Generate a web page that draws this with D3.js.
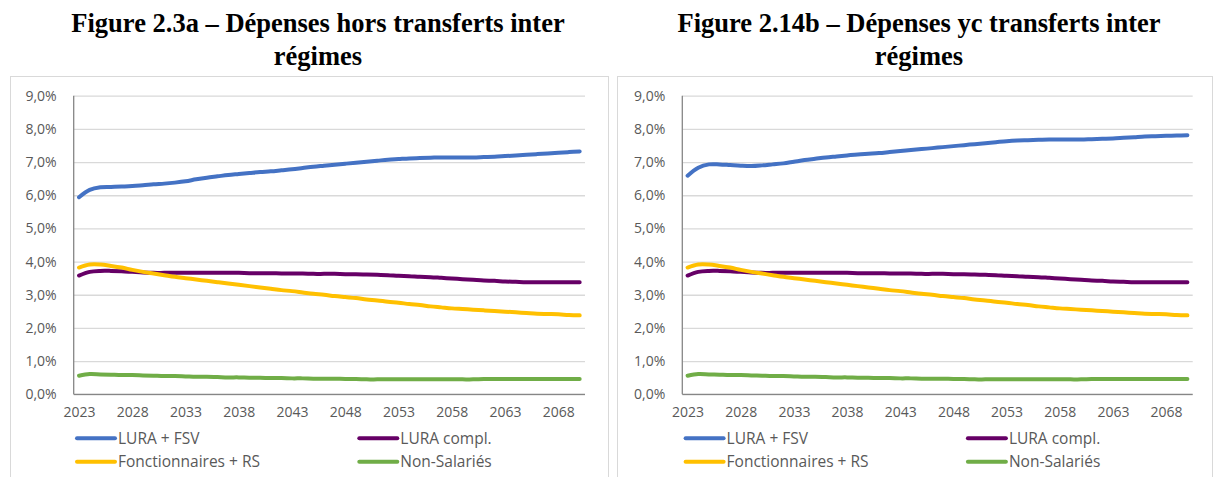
<!DOCTYPE html>
<meta charset="utf-8">
<html>
<style>
  body { margin: 0; background: #fff; }
  .title { font-family: "Liberation Serif", "Times New Roman", serif; font-weight: bold; font-size: 26.5px; fill: #000; }
  .tick text { font-family: "Open Sans", "Noto Sans", sans-serif; font-size: 14px; fill: #595959; }
  .legend text { font-family: "Open Sans", "Noto Sans", sans-serif; font-size: 15.5px; fill: #595959; }
  .line { fill: none; stroke-width: 4px; stroke-linecap: round; stroke-linejoin: round; }
</style>
<body>
<svg width="1214" height="477"></svg>
<script src="https://d3js.org/d3.v7.min.js"></script>
<script>
// years 2023..2070
var years = d3.range(2023, 2071);
var xTickYears = [2023, 2028, 2033, 2038, 2043, 2048, 2053, 2058, 2063, 2068];
var yTicks = [0, 0.01, 0.02, 0.03, 0.04, 0.05, 0.06, 0.07, 0.08, 0.09];

var seriesNames = ["LURA + FSV", "LURA compl.", "Fonctionnaires + RS", "Non-Salariés"];
var seriesColors = ["#4472C4", "#660066", "#FFC000", "#70AD47"];

// values in % of GDP
var luraFsvHors = [5.94, 6.16, 6.24, 6.25, 6.26, 6.28, 6.30, 6.33, 6.35, 6.38,
  6.42, 6.48, 6.53, 6.57, 6.61, 6.64, 6.67, 6.70, 6.72, 6.75,
  6.78, 6.82, 6.86, 6.89, 6.92, 6.95, 6.98, 7.01, 7.04, 7.07,
  7.09, 7.11, 7.12, 7.13, 7.14, 7.14, 7.14, 7.14, 7.15, 7.16,
  7.18, 7.20, 7.22, 7.24, 7.26, 7.28, 7.30, 7.32];
var luraFsvYc = [6.59, 6.83, 6.93, 6.93, 6.91, 6.89, 6.88, 6.90, 6.93, 6.96,
  7.01, 7.06, 7.10, 7.14, 7.17, 7.20, 7.23, 7.25, 7.27, 7.30,
  7.33, 7.36, 7.39, 7.42, 7.45, 7.48, 7.51, 7.54, 7.57, 7.60,
  7.63, 7.65, 7.66, 7.67, 7.68, 7.68, 7.68, 7.68, 7.69, 7.70,
  7.71, 7.73, 7.75, 7.77, 7.78, 7.79, 7.80, 7.81];
var luraCompl = [3.58, 3.69, 3.72, 3.72, 3.71, 3.69, 3.67, 3.66, 3.66, 3.66,
  3.66, 3.66, 3.66, 3.66, 3.66, 3.66, 3.65, 3.65, 3.65, 3.64,
  3.64, 3.64, 3.63, 3.63, 3.63, 3.62, 3.62, 3.61, 3.60, 3.59,
  3.57, 3.56, 3.54, 3.53, 3.51, 3.49, 3.47, 3.45, 3.43, 3.42,
  3.40, 3.39, 3.38, 3.38, 3.38, 3.38, 3.38, 3.38];
var fonctionnaires = [3.82, 3.91, 3.91, 3.87, 3.82, 3.75, 3.69, 3.64, 3.59, 3.54,
  3.50, 3.46, 3.42, 3.38, 3.34, 3.30, 3.26, 3.22, 3.18, 3.14,
  3.11, 3.07, 3.03, 3.00, 2.96, 2.93, 2.90, 2.86, 2.83, 2.79,
  2.76, 2.72, 2.69, 2.65, 2.62, 2.59, 2.57, 2.55, 2.53, 2.51,
  2.49, 2.47, 2.45, 2.43, 2.42, 2.41, 2.39, 2.38];
var nonSalaries = [0.56, 0.61, 0.60, 0.59, 0.58, 0.58, 0.57, 0.56, 0.55, 0.55,
  0.54, 0.53, 0.53, 0.52, 0.51, 0.51, 0.50, 0.50, 0.49, 0.49,
  0.48, 0.48, 0.47, 0.47, 0.47, 0.46, 0.46, 0.45, 0.45, 0.45,
  0.45, 0.45, 0.45, 0.45, 0.45, 0.45, 0.45, 0.45, 0.46, 0.46,
  0.46, 0.46, 0.46, 0.46, 0.46, 0.46, 0.46, 0.46];

var fr = d3.formatLocale({decimal: ",", thousands: " ", grouping: [3], currency: ["", " €"]});
var pct = fr.format(".1%");

var svg = d3.select("svg");

function drawChart(opts) {
  var g = svg.append("g");

  // frame
  g.append("rect")
    .attr("x", opts.frame[0] + 0.5).attr("y", 76.5)
    .attr("width", opts.frame[1] - opts.frame[0]).attr("height", 420)
    .attr("fill", "none").attr("stroke", "#d9d9d9");

  // title
  g.selectAll(".title").data(opts.title).enter().append("text")
    .attr("class", "title")
    .attr("x", opts.titleX)
    .attr("y", function(d, i) { return 32 + i * 33; })
    .attr("text-anchor", "middle")
    .text(function(d) { return d; });

  var x = d3.scalePoint().domain(years).range([opts.x0, opts.x1]).padding(0.5);
  var y = d3.scaleLinear().domain([0, 0.09]).range([394.3, 95.7]);

  // gridlines + y labels
  var yAxis = g.append("g")
    .attr("transform", "translate(" + opts.x0 + ",0)")
    .call(d3.axisLeft(y).tickValues(yTicks).tickFormat(pct).tickSize(-(opts.x1 - opts.x0)).tickPadding(17));
  yAxis.select(".domain").remove();
  yAxis.selectAll(".tick line").attr("stroke", "#d9d9d9").attr("stroke-width", 1.3);

  // x labels
  var xAxis = g.append("g")
    .attr("transform", "translate(0,394.3)")
    .call(d3.axisBottom(x).tickValues(xTickYears).tickSize(0).tickPadding(13));
  xAxis.select(".domain").remove();

  // axis lines
  g.append("line")
    .attr("x1", opts.x0).attr("x2", opts.x1)
    .attr("y1", y(0)).attr("y2", y(0))
    .attr("stroke", "#868686").attr("stroke-width", 1.3);
  g.append("line")
    .attr("x1", opts.x0).attr("x2", opts.x0)
    .attr("y1", y(0.09)).attr("y2", y(0))
    .attr("stroke", "#868686").attr("stroke-width", 1.3);

  var line = d3.line()
    .x(function(d, i) { return x(years[i]); })
    .y(function(d) { return y(d / 100); })
    .curve(d3.curveCatmullRom.alpha(0.5));

  g.selectAll(".line").data(opts.series).enter().append("path")
    .attr("class", "line")
    .attr("stroke", function(d, i) { return seriesColors[i]; })
    .attr("d", line);

  // legend
  var lx = opts.x0 + 1.3;
  var legend = g.append("g").attr("class", "legend");
  seriesNames.forEach(function(name, i) {
    var cx = lx + (i % 2) * 282.3;
    var cy = 438.3 + Math.floor(i / 2) * 23.4;
    legend.append("line")
      .attr("x1", cx + 2).attr("x2", cx + 40)
      .attr("y1", cy).attr("y2", cy)
      .attr("stroke", seriesColors[i]).attr("stroke-width", 4).attr("stroke-linecap", "round");
    legend.append("text")
      .attr("x", cx + 43).attr("y", cy + 5.5)
      .text(name);
  });
}

drawChart({
  frame: [10, 608], titleX: 318, x0: 73.7, x1: 585,
  title: ["Figure 2.3a – Dépenses hors transferts inter", "régimes"],
  series: [luraFsvHors, luraCompl, fonctionnaires, nonSalaries]
});
drawChart({
  frame: [617, 1212], titleX: 919, x0: 682.3, x1: 1192.7,
  title: ["Figure 2.14b – Dépenses yc transferts inter", "régimes"],
  series: [luraFsvYc, luraCompl, fonctionnaires, nonSalaries]
});
</script>
</body>
</html>
